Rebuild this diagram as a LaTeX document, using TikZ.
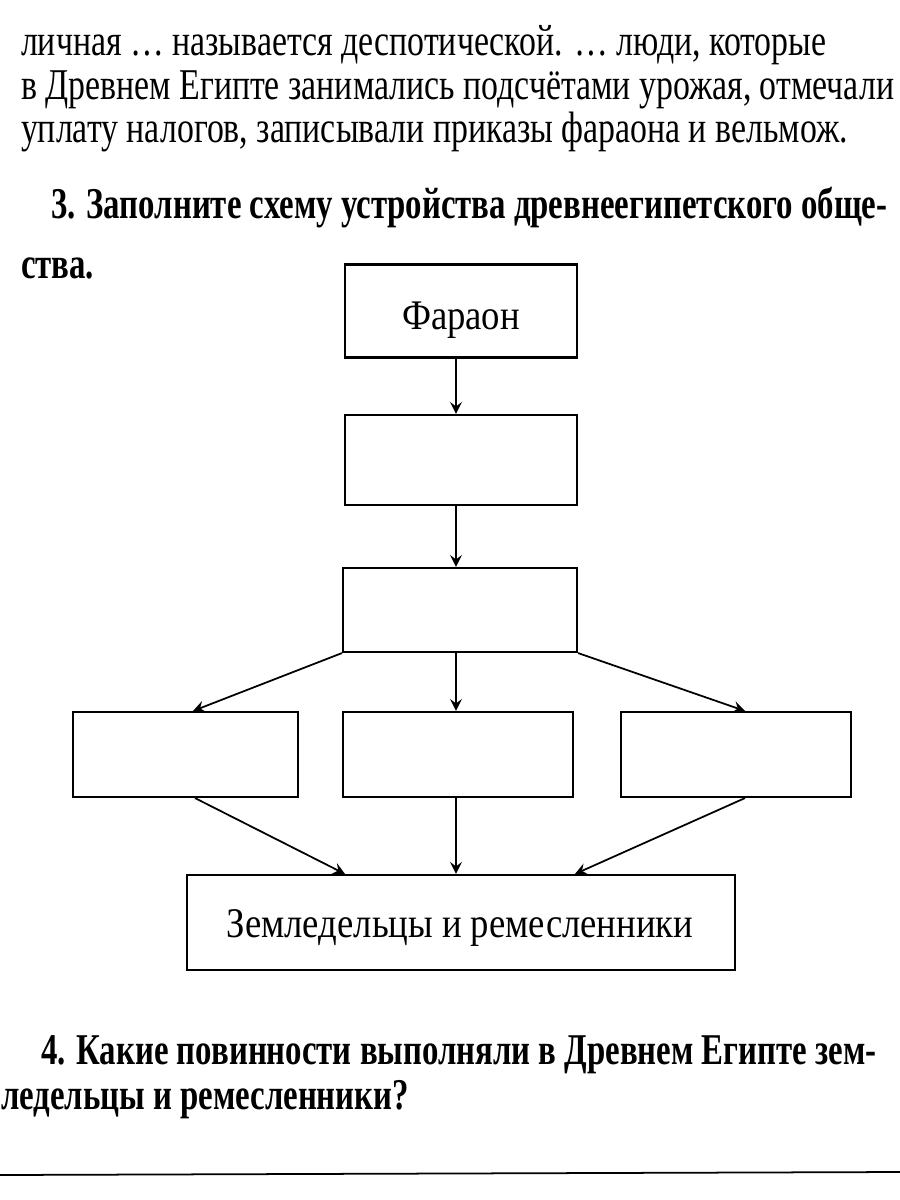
\documentclass[tikz,border=0pt]{standalone}
\usepackage{fontspec}
\setmainfont{Liberation Serif}
\usetikzlibrary{positioning}

\begin{document}
\begin{tikzpicture}[>=stealth, thick, every node/.style={font=\fontsize{12}{14}\selectfont}]
\tikzset{
  box/.style={
    draw, rectangle, line width=.6pt,
    minimum height=0.85cm, inner sep=0pt
  },
  boxtext/.style={font=\fontsize{12}{14}\selectfont, xscale=0.87, transform shape, inner sep=0pt},
  txt/.style={anchor=west, inner sep=0pt, xscale=0.77, transform shape, font=\fontsize{12.5}{14}\selectfont},
  head/.style={txt, xscale=0.97, font=\bfseries\fontsize{12.5}{14}\selectfont}
}
\useasboundingbox (0,0) rectangle (9,-12);
% text around the scheme
\node[txt] (l1) at (0.2,-0.45) {личная … называется деспотической. … люди, которые};
\node[txt] (l2) at (0.2,-0.90) {в Древнем Египте занимались подсчётами урожая, отмечали};
\node[txt] (l3) at (0.2,-1.32) {уплату налогов, записывали приказы фараона и вельмож.};
\node[head] (h3) at (0.5,-2.08) {3. Заполните схему устройства древнеегипетского обще-};
\node[head] (h3b) at (0.2,-2.68) {ства.};

% scheme
\node[box, minimum width=2.32cm, minimum height=0.93cm] (farao) at (4.61,-3.11) {};
\node[boxtext] (faraotext) at (4.61,-3.20) {Фараон};
\node[box, minimum width=2.32cm, minimum height=0.9cm] (upper) at (4.61,-4.60) {};
\node[box, minimum width=2.34cm, minimum height=0.84cm] (middle) at (4.60,-6.10) {};
\node[box, minimum width=2.25cm] (left) at (1.855,-7.545) {};
\node[box, minimum width=2.30cm] (centre) at (4.58,-7.545) {};
\node[box, minimum width=2.30cm] (right) at (7.36,-7.545) {};
\node[box, minimum width=5.48cm, minimum height=0.95cm] (people) at (4.61,-9.225) {};
\node[boxtext] (peopletext) at (4.60,-9.28) {Земледельцы и ремесленники};

\draw[->, line width=.5pt] (farao.south -| 4.56,0) -- (upper.north -| 4.56,0);
\draw[->, line width=.5pt] (upper.south -| 4.56,0) -- (middle.north -| 4.56,0);
\draw[->, line width=.5pt] (middle.south -| 4.56,0) -- (centre.north -| 4.56,0);
\draw[->, line width=.5pt] (middle.south west) -- (left.north -| 1.93,0);
\draw[->, line width=.5pt] (middle.south east) -- (right.north -| 7.45,0);
\draw[->, line width=.5pt] (left.south -| 1.95,0) -- (people.north -| 3.45,0);
\draw[->, line width=.5pt] (centre.south -| 4.56,0) -- (people.north -| 4.56,0);
\draw[->, line width=.5pt] (right.south -| 7.45,0) -- (people.north -| 5.75,0);

% next task
\node[head] (h4) at (0.4,-10.55) {4. Какие повинности выполняли в Древнем Египте зем-};
\node[head] (h4b) at (0.0,-11.0) {ледельцы и ремесленники?};
\draw[line width=.5pt] (0,-11.75) -- (9,-11.72);
\end{tikzpicture}
\end{document}
